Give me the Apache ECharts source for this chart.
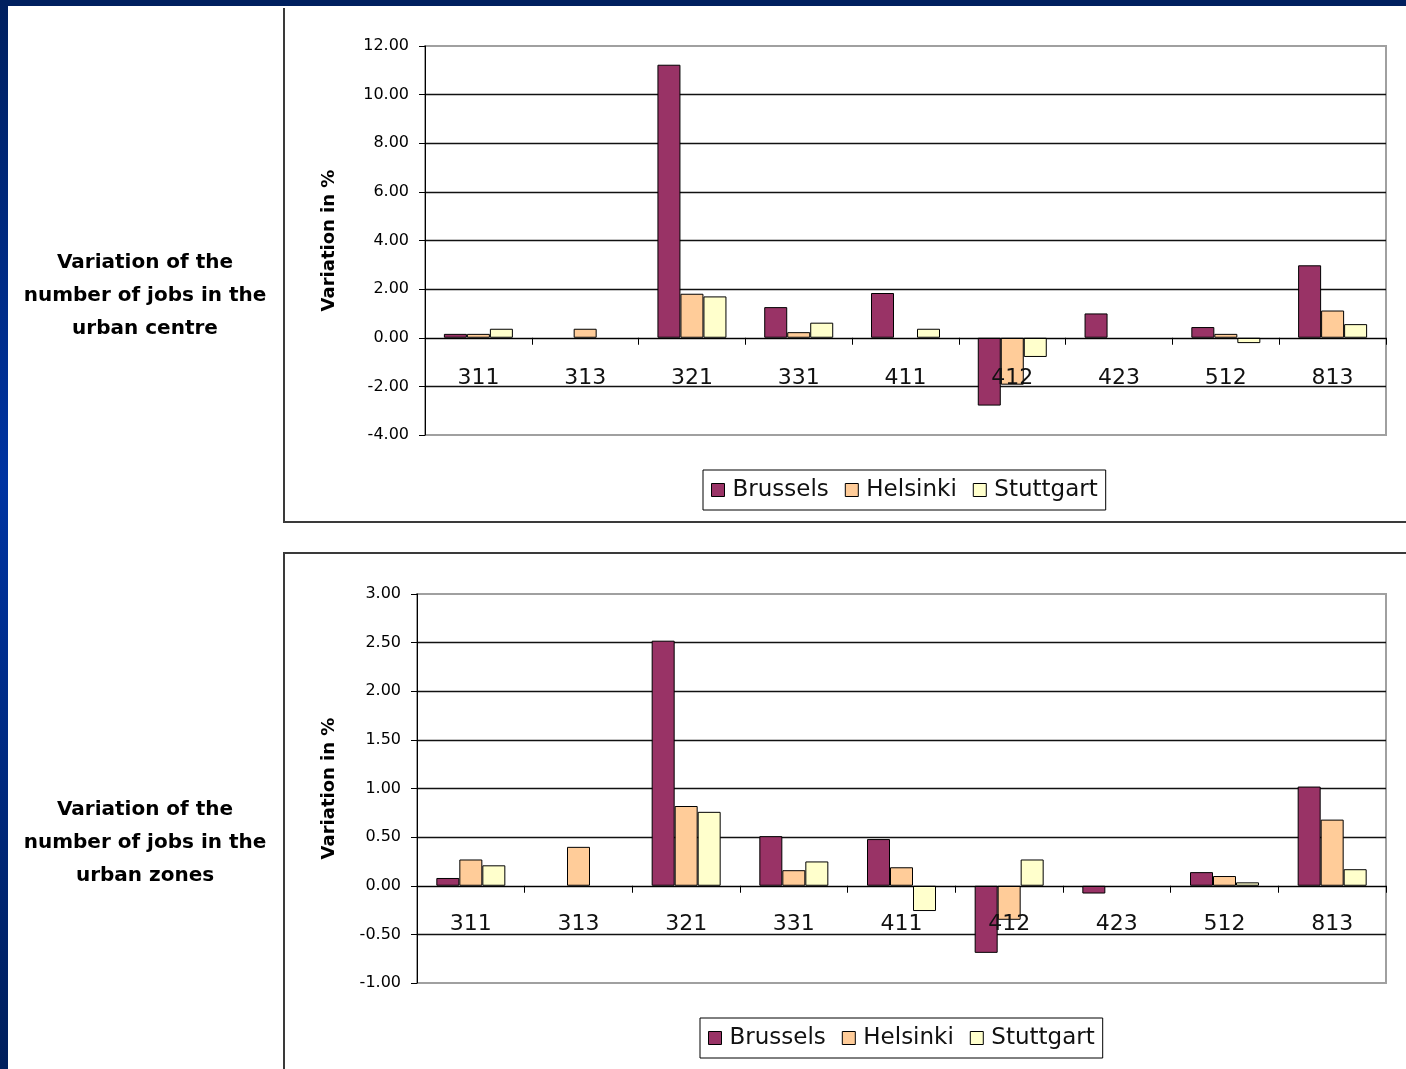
<!DOCTYPE html>
<html>
<head>
<meta charset="utf-8">
<title>Variation of the number of jobs</title>
<script src="https://cdn.jsdelivr.net/npm/echarts@6/dist/echarts.min.js"></script>
<style>
  html, body { margin: 0; padding: 0; background: #ffffff; }
  #chart { width: 1406px; height: 1069px; }
</style>
</head>
<body>
<div id="chart"></div>
<script>
// Sector codes shown on the category axis
const sectors = ['311', '313', '321', '331', '411', '412', '423', '512', '813'];
const cities = ['Brussels', 'Helsinki', 'Stuttgart'];

// Variation of the number of jobs in the urban centre (%)
const centreBrussels  = [0.16, null, 11.23, 1.26, 1.84, -2.79, 1.00, 0.44, 2.98];
const centreHelsinki  = [0.16, 0.37, 1.81, 0.23, null, -1.93, null, 0.16, 1.12];
const centreStuttgart = [0.37, null, 1.70, 0.62, 0.37, -0.79, null, -0.22, 0.56];

// Variation of the number of jobs in the urban zones (%)
const zonesBrussels  = [0.08, null, 2.52, 0.51, 0.48, -0.69, -0.08, 0.14, 1.02];
const zonesHelsinki  = [0.27, 0.40, 0.82, 0.16, 0.19, -0.35, null, 0.10, 0.68];
const zonesStuttgart = [0.21, null, 0.76, 0.25, -0.26, 0.27, null, 0.035, 0.17];

// Value axis ranges
const centreAxis = { min: -4, max: 12, interval: 2 };
const zonesAxis  = { min: -1, max: 3, interval: 0.5 };

const cityColors = ['#993366', '#FFCC99', '#FFFFCC'];
const FONT = '"DejaVu Sans", Verdana, sans-serif';

// Category labels sit just under the zero line, so they are pulled up from the grid's bottom edge
function xAxisFor(gridIndex, labelMargin) {
  return {
    type: 'category',
    gridIndex: gridIndex,
    data: sectors,
    z: 5,
    axisLine: { onZero: true, lineStyle: { color: '#000', width: 1 } },
    axisTick: { show: true, length: 7, lineStyle: { color: '#000' } },
    axisLabel: { margin: labelMargin, fontFamily: FONT, fontSize: 22, color: '#111' },
    splitLine: { show: false }
  };
}

function yAxisFor(gridIndex, range, gap) {
  return {
    type: 'value',
    gridIndex: gridIndex,
    min: range.min,
    max: range.max,
    interval: range.interval,
    name: 'Variation in %',
    nameLocation: 'middle',
    nameGap: gap,
    nameTextStyle: { fontFamily: FONT, fontWeight: 'bold', fontSize: 18, color: '#000' },
    axisLine: { show: true, lineStyle: { color: '#000', width: 1 } },
    axisTick: { show: true, length: 6, lineStyle: { color: '#000' } },
    axisLabel: {
      margin: 16, fontFamily: FONT, fontSize: 16, color: '#000',
      formatter: v => v.toFixed(2)
    },
    splitLine: {
      show: true, showMinLine: false, showMaxLine: false,
      lineStyle: { color: '#111', width: 1.3 }
    }
  };
}

function barSeries(name, data, idx, axisIndex) {
  return {
    type: 'bar',
    name: name,
    xAxisIndex: axisIndex,
    yAxisIndex: axisIndex,
    data: data,
    barWidth: 23,
    barGap: '0%',
    itemStyle: { color: cityColors[idx], borderColor: '#000', borderWidth: 1 },
    emphasis: { disabled: true }
  };
}

function legendFor(left, top) {
  return {
    data: cities,
    left: left,
    top: top,
    orient: 'horizontal',
    icon: 'rect',
    itemWidth: 13,
    itemHeight: 13,
    itemGap: 16,
    padding: [8, 8, 8, 8],
    borderColor: '#000',
    borderWidth: 1,
    selectedMode: false,
    itemStyle: { borderColor: '#000', borderWidth: 1 },
    textStyle: { fontFamily: FONT, fontSize: 23, lineHeight: 24, color: '#111', padding: [0, 0, 0, 3] }
  };
}

function sideText(lines, cy) {
  return {
    type: 'text',
    style: {
      text: lines.join('\n'),
      x: 145, y: cy,
      align: 'center',
      verticalAlign: 'middle',
      lineHeight: 33,
      font: 'bold 20px ' + FONT,
      fill: '#000'
    }
  };
}

const chart = echarts.init(document.getElementById('chart'), null, { renderer: 'canvas' });

chart.setOption({
  backgroundColor: '#ffffff',
  animation: false,
  graphic: [
    // slide frame
    { type: 'rect', shape: { x: 0, y: 0, width: 1406, height: 6 }, style: { fill: '#00205f' }, z: 10 },
    {
      type: 'rect', shape: { x: 0, y: 0, width: 8, height: 1069 }, z: 10,
      style: {
        fill: new echarts.graphic.LinearGradient(0, 0, 0, 1, [
          { offset: 0, color: '#00205f' },
          { offset: 0.45, color: '#0034a2' },
          { offset: 1, color: '#001f5c' }
        ])
      }
    },
    // chart panels
    { type: 'polyline', shape: { points: [[284, 8], [284, 522], [1406, 522]] }, style: { stroke: '#3a3a3a', lineWidth: 2, fill: null } },
    { type: 'polyline', shape: { points: [[284, 1069], [284, 553], [1406, 553]] }, style: { stroke: '#3a3a3a', lineWidth: 2, fill: null } },
    // row captions
    sideText(['Variation of the', 'number of jobs in the', 'urban centre'], 296),
    sideText(['Variation of the', 'number of jobs in the', 'urban zones'], 843)
  ],
  grid: [
    { left: 425, right: 20, top: 46, height: 389, show: true, borderColor: '#a0a0a0', borderWidth: 2 },
    { left: 417, right: 20, top: 594, height: 389, show: true, borderColor: '#a0a0a0', borderWidth: 2 }
  ],
  xAxis: [xAxisFor(0, -68), xAxisFor(1, -70)],
  yAxis: [yAxisFor(0, centreAxis, 87), yAxisFor(1, zonesAxis, 79)],
  legend: [legendFor(703, 470), legendFor(700, 1018)],
  series: [
    barSeries(cities[0], centreBrussels, 0, 0),
    barSeries(cities[1], centreHelsinki, 1, 0),
    barSeries(cities[2], centreStuttgart, 2, 0),
    barSeries(cities[0], zonesBrussels, 0, 1),
    barSeries(cities[1], zonesHelsinki, 1, 1),
    barSeries(cities[2], zonesStuttgart, 2, 1)
  ]
});
</script>
</body>
</html>
